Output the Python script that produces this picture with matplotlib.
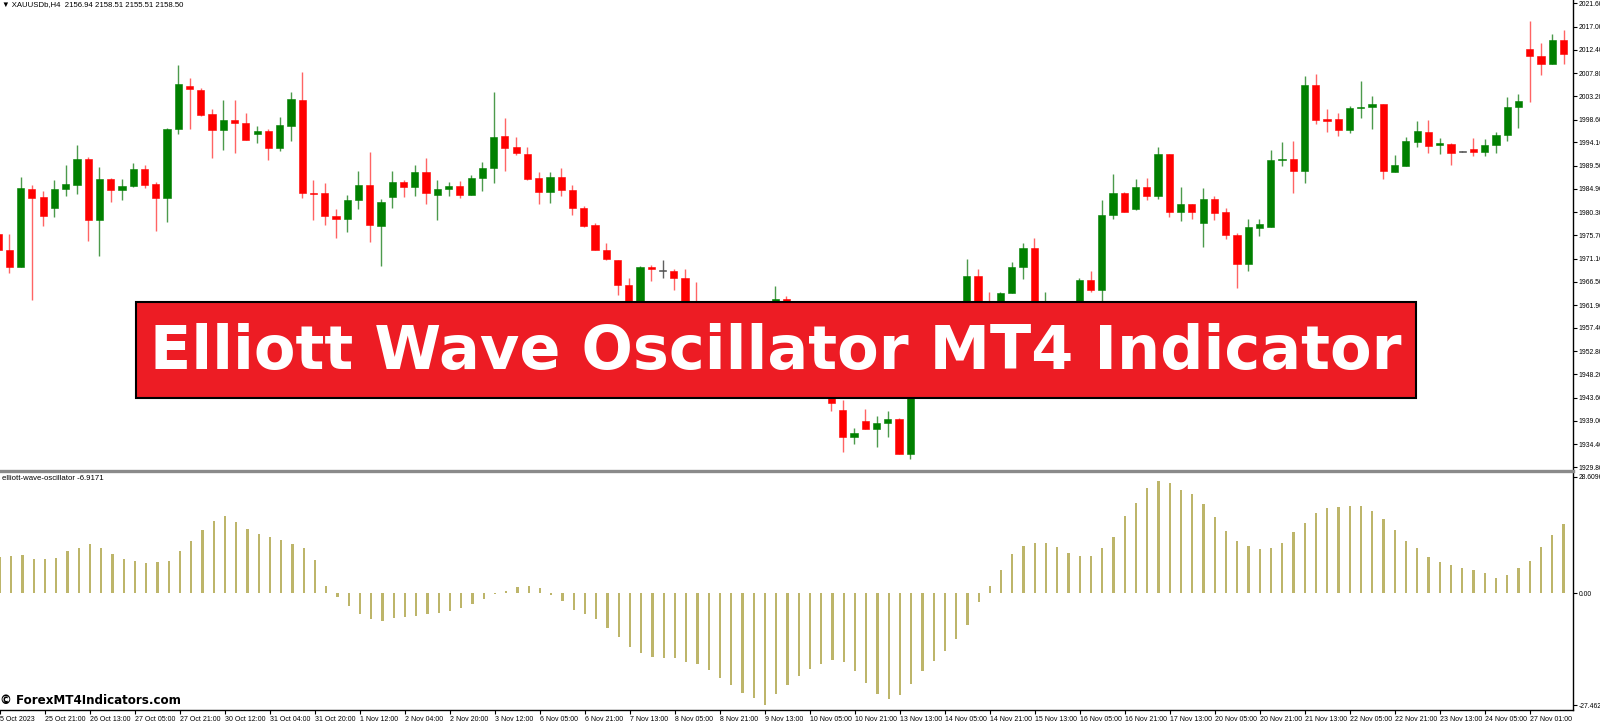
import matplotlib
matplotlib.use("Agg")
import matplotlib.pyplot as plt
from matplotlib.patches import Rectangle
from matplotlib.lines import Line2D
from matplotlib.transforms import ScaledTranslation
import numpy as np

# --- chart data (XAUUSD H4) ---
opens = [1976.0, 1972.8, 1969.4, 1984.9, 1983.2, 1981.2, 1984.9, 1985.6, 1990.7, 1978.8,
         1986.9, 1984.7, 1985.5, 1988.8, 1985.8, 1983.0, 1996.8, 2005.2, 2004.5, 1999.6,
         1996.5, 1998.5, 1997.9, 1995.8, 1996.4, 1993.0, 1997.4, 2002.5, 1984.1, 1984.0,
         1979.5, 1979.0, 1982.7, 1985.6, 1977.6, 1983.2, 1986.2, 1985.3, 1988.2, 1983.7,
         1984.9, 1985.5, 1983.7, 1987.0, 1989.0, 1995.4, 1993.1, 1991.8, 1987.0, 1984.2,
         1987.2, 1984.7, 1981.2, 1977.8, 1972.8, 1970.8, 1965.9, 1960.2, 1969.4, 1968.7,
         1968.6, 1967.2, 1958.4, 1954.6, 1951.0, 1947.8, 1950.6, 1955.2, 1953.6, 1958.3,
         1963.1, 1955.4, 1951.2, 1948.0, 1946.3, 1941.2, 1935.8, 1939.0, 1937.4, 1938.5,
         1939.4, 1932.4, 1951.8, 1955.0, 1952.8, 1957.6, 1960.8, 1967.7, 1960.0, 1957.0,
         1964.3, 1969.5, 1973.1, 1959.5, 1962.0, 1957.2, 1961.5, 1966.9, 1964.9, 1979.7,
         1984.0, 1980.9, 1985.2, 1983.5, 1991.7, 1980.25, 1981.9, 1978.2, 1982.9, 1980.25,
         1975.7, 1970.0, 1977.15, 1977.4, 1990.5, 1990.75, 1988.5, 2005.4, 1998.65, 1998.65,
         1996.55, 2000.85, 2001.0, 2001.7, 1988.3, 1989.35, 1994.2, 1996.15, 1993.6, 1993.8,
         1992.2, 1992.85, 1992.2, 1993.5, 1995.6, 2001.1, 2012.6, 2011.1, 2009.6, 2014.3]
highs = [1977.5, 1976.0, 1987.2, 1985.6, 1984.4, 1986.7, 1989.6, 1993.5, 1991.2, 1989.3,
         1987.1, 1986.8, 1990.0, 1989.7, 1986.3, 1997.0, 2009.3, 2006.8, 2004.9, 2000.6,
         2002.5, 2002.5, 1999.9, 1997.3, 1996.7, 1999.2, 2004.1, 2008.0, 1986.7, 1986.0,
         1980.9, 1983.6, 1988.4, 1992.2, 1982.8, 1988.4, 1986.7, 1989.6, 1990.9, 1986.7,
         1986.2, 1986.4, 1987.7, 1990.2, 2004.1, 1999.0, 1995.1, 1993.1, 1988.3, 1988.3,
         1989.0, 1985.7, 1981.5, 1978.2, 1974.1, 1970.9, 1967.2, 1969.7, 1969.8, 1970.8,
         1969.0, 1969.0, 1966.5, 1958.0, 1953.5, 1952.0, 1956.5, 1958.0, 1959.5, 1965.6,
         1963.6, 1957.0, 1953.0, 1950.5, 1948.0, 1943.2, 1937.5, 1941.3, 1940.0, 1941.0,
         1939.5, 1953.0, 1956.5, 1957.5, 1959.0, 1961.8, 1971.0, 1969.1, 1964.4, 1964.4,
         1970.5, 1974.1, 1975.1, 1964.4, 1962.4, 1962.3, 1967.2, 1968.6, 1982.7, 1987.9,
         1984.3, 1986.9, 1987.0, 1993.2, 1991.8, 1985.2, 1981.9, 1985.0, 1983.5, 1981.1,
         1976.1, 1978.9, 1978.9, 1992.6, 1994.2, 1994.4, 2007.2, 2007.55, 2000.75, 1999.85,
         2001.3, 2006.3, 2003.3, 2001.7, 1991.6, 1995.1, 1998.3, 1998.5, 1994.9, 1993.9,
         1992.3, 1994.95, 1994.7, 1996.2, 2003.05, 2003.6, 2018.1, 2013.7, 2015.5, 2016.3]
lows = [1971.5, 1968.2, 1969.4, 1962.9, 1977.6, 1979.4, 1983.4, 1983.9, 1974.6, 1971.6,
        1982.2, 1982.7, 1985.3, 1985.1, 1976.6, 1978.4, 1995.8, 1996.8, 1999.4, 1990.9,
        1992.5, 1991.9, 1994.6, 1993.9, 1990.5, 1992.3, 1994.4, 1983.1, 1978.8, 1977.8,
        1975.1, 1976.4, 1981.0, 1974.4, 1969.7, 1981.2, 1983.2, 1983.5, 1981.8, 1978.8,
        1983.5, 1983.1, 1983.7, 1984.5, 1986.1, 1988.5, 1991.5, 1986.7, 1981.8, 1982.0,
        1983.4, 1979.7, 1977.3, 1972.7, 1970.8, 1963.9, 1958.5, 1959.0, 1966.7, 1967.2,
        1964.8, 1957.5, 1953.0, 1949.5, 1946.0, 1945.5, 1949.0, 1952.5, 1952.0, 1957.5,
        1954.5, 1950.0, 1946.5, 1944.8, 1941.0, 1932.9, 1934.5, 1937.4, 1933.8, 1935.8,
        1932.4, 1931.4, 1950.0, 1951.5, 1951.0, 1955.5, 1959.5, 1958.5, 1955.5, 1955.8,
        1964.2, 1967.1, 1958.0, 1957.0, 1955.0, 1955.5, 1960.0, 1964.4, 1961.5, 1979.0,
        1980.4, 1980.8, 1982.6, 1982.8, 1979.3, 1978.5, 1978.9, 1973.3, 1978.7, 1975.0,
        1965.2, 1968.7, 1975.6, 1977.4, 1989.5, 1984.1, 1986.0, 1997.7, 1996.2, 1995.35,
        1995.9, 1998.9, 1996.7, 1986.8, 1988.3, 1989.35, 1993.1, 1992.05, 1991.8, 1989.7,
        1992.1, 1991.3, 1991.4, 1991.9, 1994.3, 1996.9, 2002.1, 2007.5, 2009.6, 2009.65]
closes = [1972.7, 1969.4, 1985.1, 1983.0, 1979.6, 1984.9, 1985.8, 1990.7, 1978.8, 1986.9,
          1984.7, 1985.5, 1988.8, 1985.7, 1983.0, 1996.7, 2005.7, 2004.7, 1999.5, 1996.5,
          1998.6, 1997.9, 1994.6, 1996.4, 1993.0, 1997.5, 2002.7, 1984.0, 1983.8, 1979.5,
          1979.0, 1982.7, 1985.6, 1977.7, 1982.2, 1986.2, 1985.3, 1988.2, 1984.1, 1984.9,
          1985.5, 1983.7, 1987.0, 1989.0, 1995.2, 1993.0, 1991.9, 1986.9, 1984.2, 1987.2,
          1984.6, 1981.2, 1977.5, 1972.8, 1971.0, 1965.9, 1960.2, 1969.4, 1969.0, 1968.6,
          1967.2, 1958.4, 1954.6, 1951.0, 1947.8, 1950.6, 1955.2, 1953.6, 1958.3, 1963.1,
          1955.4, 1951.2, 1948.0, 1946.3, 1942.5, 1935.8, 1936.5, 1937.4, 1938.5, 1939.4,
          1932.4, 1951.8, 1955.0, 1952.8, 1957.6, 1960.8, 1967.7, 1960.0, 1957.0, 1964.3,
          1969.5, 1973.1, 1959.5, 1962.0, 1957.2, 1961.5, 1966.9, 1964.9, 1979.7, 1984.0,
          1980.4, 1985.2, 1983.5, 1991.7, 1980.3, 1981.9, 1980.25, 1982.9, 1980.2, 1975.7,
          1970.0, 1977.3, 1977.95, 1990.6, 1990.7, 1988.5, 2005.4, 1998.5, 1998.25, 1996.55,
          2000.85, 2001.1, 2001.7, 1988.4, 1989.6, 1994.3, 1996.3, 1993.4, 1993.9, 1992.05,
          1992.2, 1992.2, 1993.5, 1995.6, 2001.1, 2002.2, 2011.25, 2009.65, 2014.3, 2011.5]

osc = [9.0, 9.25, 9.5, 8.5, 8.5, 8.75, 10.25, 11.0, 12.0, 11.0,
       9.75, 8.5, 8.0, 7.5, 7.75, 8.0, 10.25, 12.75, 15.5, 17.75,
       19.0, 17.5, 15.75, 14.5, 13.75, 13.0, 12.0, 11.0, 8.25, 1.75,
       -1.0, -3.0, -5.0, -6.25, -6.75, -6.0, -5.75, -5.5, -5.0, -4.75,
       -4.25, -3.5, -2.5, -1.5, -0.25, 0.5, 1.5, 1.75, 1.25, -0.5,
       -2.0, -4.0, -5.0, -6.25, -8.5, -10.75, -13.25, -14.75, -15.5, -15.75,
       -15.75, -16.75, -17.25, -18.75, -20.75, -22.5, -24.5, -25.75, -27.46, -24.75,
       -22.5, -20.25, -18.5, -17.25, -16.25, -16.75, -19.0, -22.0, -24.75, -26.0,
       -25.0, -22.25, -19.0, -16.5, -14.25, -11.25, -7.75, -2.25, 1.75, 5.75,
       9.75, 11.5, 12.25, 12.25, 11.25, 10.0, 9.25, 9.25, 11.0, 13.75,
       19.0, 22.25, 25.75, 27.6, 27.0, 25.25, 24.25, 22.0, 18.75, 15.25,
       12.75, 11.5, 10.75, 11.0, 12.25, 15.0, 17.25, 19.75, 21.0, 21.25,
       21.5, 21.5, 20.25, 18.25, 15.5, 12.75, 11.0, 9.0, 7.75, 7.0,
       6.25, 5.75, 5.0, 3.75, 4.5, 6.25, 8.0, 11.25, 14.25, 17.0]

price_ticks = [2021.60, 2017.00, 2012.40, 2007.80, 2003.20, 1998.60, 1994.10, 1989.50,
               1984.90, 1980.30, 1975.70, 1971.10, 1966.50, 1961.90, 1957.40, 1952.80,
               1948.20, 1943.60, 1939.00, 1934.40, 1929.80]
osc_ticks = [28.6096, 0.0, -27.462]
osc_tick_labels = ["28.6096", "0.00", "-27.462"]

date_labels = ["25 Oct 2023", "25 Oct 21:00", "26 Oct 13:00", "27 Oct 05:00", "27 Oct 21:00",
               "30 Oct 12:00", "31 Oct 04:00", "31 Oct 20:00", "1 Nov 12:00", "2 Nov 04:00",
               "2 Nov 20:00", "3 Nov 12:00", "6 Nov 05:00", "6 Nov 21:00", "7 Nov 13:00",
               "8 Nov 05:00", "8 Nov 21:00", "9 Nov 13:00", "10 Nov 05:00", "10 Nov 21:00",
               "13 Nov 13:00", "14 Nov 05:00", "14 Nov 21:00", "15 Nov 13:00", "16 Nov 05:00",
               "16 Nov 21:00", "17 Nov 13:00", "20 Nov 05:00", "20 Nov 21:00", "21 Nov 13:00",
               "22 Nov 05:00", "22 Nov 21:00", "23 Nov 13:00", "24 Nov 05:00", "27 Nov 01:00"]

header = "\u25BC XAUUSDb,H4  2156.94 2158.51 2155.51 2158.50"
osc_name = "elliott-wave-oscillator -6.9171"
banner_text = "Elliott Wave Oscillator MT4 Indicator"
watermark = "\u00A9 ForexMT4Indicators.com"

# --- figure layout (pixel based, 1600x722) ---
W, H = 1600, 722
fig = plt.figure(figsize=(W / 100, H / 100), dpi=100)
fig.patch.set_facecolor("white")
small_font = "Liberation Sans"

axis_x = 1573
ax1 = fig.add_axes([0, 1 - 469 / H, axis_x / W, 469 / H])
ax2 = fig.add_axes([0, 1 - 710 / H, axis_x / W, 238 / H])

n = len(opens)
x = np.arange(n)
o = np.array(opens); c = np.array(closes)
hi = np.array(highs); lo = np.array(lows)
up = c > o
doji = np.abs(c - o) < 0.12

wick_col = np.where(up, "#4c9a4c", "#ff6464")
wick_col = np.where(doji, "#606060", wick_col)
body_col = np.where(up, "#008000", "#ff0000")
body_col = np.where(doji, "#505050", body_col)

ax1.vlines(x, lo, hi, colors=wick_col, linewidth=1.0, zorder=2)
ax1.bar(x, np.maximum(np.abs(c - o), 0.15), bottom=np.minimum(o, c), width=0.64,
        color=body_col, edgecolor=body_col, linewidth=0.4, zorder=3)

ax1.set_xlim(0.169, 139.84)
ax1.set_ylim(1929.47, 2022.25)
ax1.yaxis.tick_right()
ax1.set_yticks(price_ticks)
ax1.set_yticklabels([f"{v:.2f}" for v in price_ticks], family=small_font)
ax1.set_xticks([])
ax1.tick_params(axis="y", direction="out", length=3, width=0.8, pad=1, labelsize=4.9)
for s in ["top", "left", "bottom"]:
    ax1.spines[s].set_visible(False)
ax1.spines["right"].set_linewidth(1.0)

# oscillator panel
ax2.bar(x, osc, width=0.2, color="#bdb56a", zorder=2)
ax2.set_xlim(0.169, 139.84)
ax2.set_ylim(-28.6, 29.73)
ax2.yaxis.tick_right()
ax2.set_yticks(osc_ticks)
ax2.set_yticklabels(osc_tick_labels, family=small_font)
ax2.set_xticks(np.arange(0, 4 * len(date_labels), 4))
ax2.set_xticklabels(date_labels, family=small_font, ha="left")
ax2.tick_params(axis="y", direction="out", length=3, width=0.8, pad=1, labelsize=4.9)
ax2.tick_params(axis="x", direction="out", length=3, width=0.8, pad=1.2, labelsize=5.0)
for s in ["top", "left"]:
    ax2.spines[s].set_visible(False)
ax2.spines["right"].set_linewidth(1.0)
ax2.spines["bottom"].set_linewidth(1.0)
# first date label sits partly off the left edge, as in the terminal
first = ax2.get_xticklabels()[0]
first.set_transform(first.get_transform() + ScaledTranslation(-4 / 100, 0, fig.dpi_scale_trans))

# separator between the two windows
fig.add_artist(Line2D([0, axis_x / W], [1 - 470.5 / H] * 2, color="#8a8a8a",
                      linewidth=2.4, transform=fig.transFigure))

fig.text(2 / W, 1 - 4.5 / H, header, fontsize=5.6, va="center", ha="left", family=small_font)
fig.text(2 / W, 1 - 478 / H, osc_name, fontsize=5.6, va="center", ha="left", family=small_font)

# title banner
fig.add_artist(Rectangle((135.7 / W, 1 - 398 / H), (1416.3 - 135.7) / W, 96 / H,
                         transform=fig.transFigure, facecolor="#ed1c24",
                         edgecolor="black", linewidth=1.5, zorder=10))
fig.text(776 / W, 1 - 352 / H, banner_text, fontsize=43.6, fontweight="bold",
         color="white", ha="center", va="center", family="DejaVu Sans", zorder=11)

fig.text(0, 1 - 700 / H, watermark, fontsize=8.6, fontweight="bold", color="black",
         ha="left", va="center", family="DejaVu Sans", zorder=11)

fig.savefig("out.png", dpi=100)
